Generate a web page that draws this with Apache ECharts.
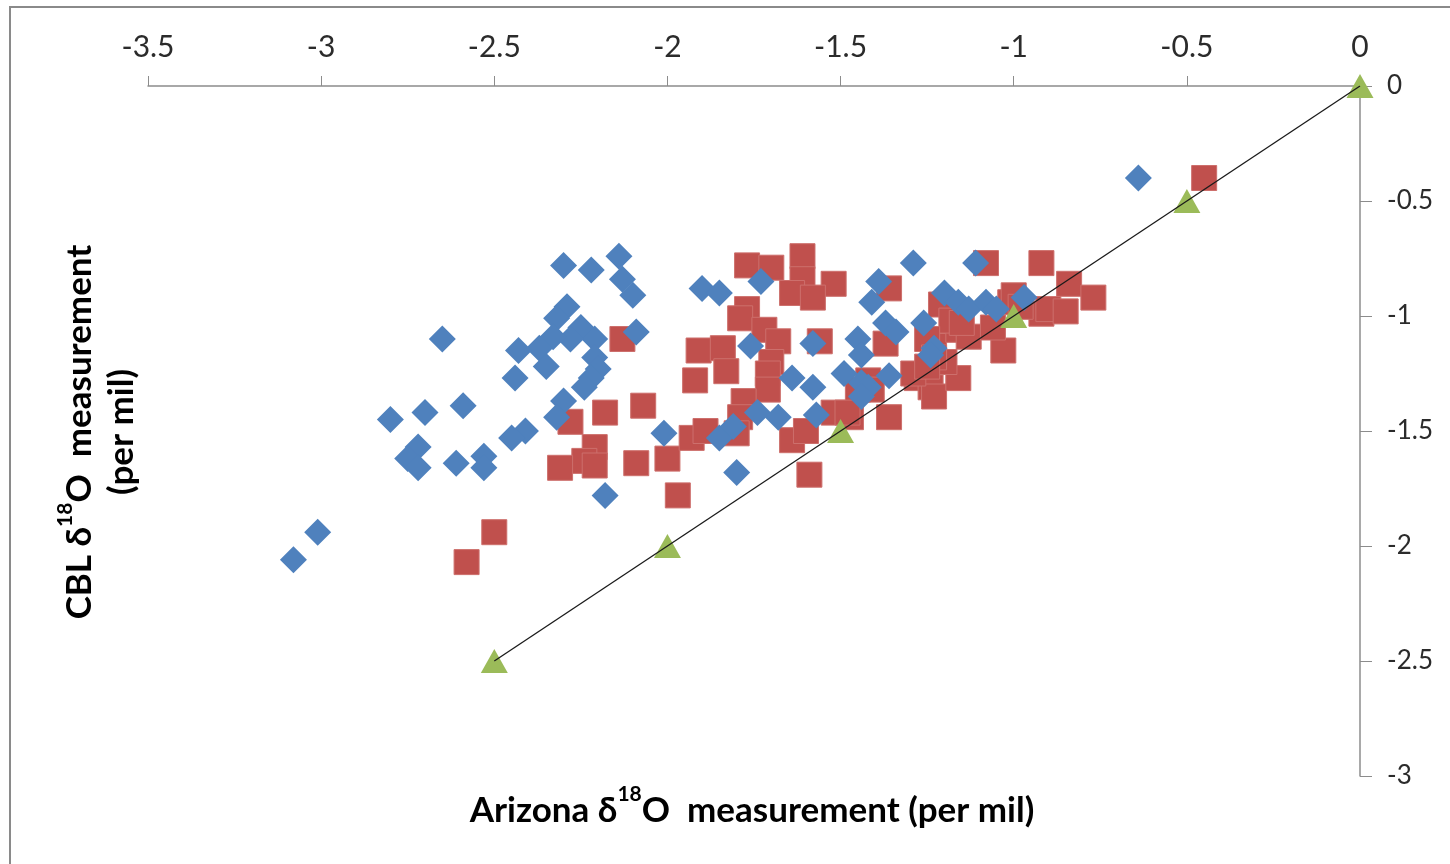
<!DOCTYPE html>
<html>
<head>
<meta charset="utf-8">
<script src="https://cdn.jsdelivr.net/npm/echarts@6/dist/echarts.min.js"></script>
<style>
  html, body { margin: 0; padding: 0; background: #fff; }
  #chart { width: 1450px; height: 864px; }
</style>
</head>
<body>
<div id="chart"></div>
<script>
// Arizona δ18O (x) vs CBL δ18O (y), per mil
const blueSeries = [
  [-2.30,-0.78],[-2.22,-0.80],[-2.14,-0.74],[-2.13,-0.84],[-2.10,-0.91],[-2.29,-0.96],[-2.32,-1.01],
  [-2.65,-1.10],[-2.09,-1.07],[-2.25,-1.05],[-2.21,-1.10],[-2.28,-1.10],[-2.33,-1.09],[-2.37,-1.14],
  [-2.43,-1.15],[-2.35,-1.22],[-2.21,-1.18],[-2.20,-1.23],[-2.22,-1.27],[-2.24,-1.31],[-2.44,-1.27],
  [-2.30,-1.37],[-2.32,-1.44],[-2.80,-1.45],[-2.70,-1.42],[-2.59,-1.39],[-2.41,-1.50],[-2.45,-1.53],
  [-2.72,-1.57],[-2.75,-1.62],[-2.72,-1.66],[-2.61,-1.64],[-2.53,-1.61],[-2.53,-1.66],[-2.01,-1.51],
  [-2.18,-1.78],[-3.01,-1.94],[-3.08,-2.06],
  [-1.90,-0.88],[-1.85,-0.90],[-1.73,-0.85],[-1.76,-1.13],[-1.58,-1.12],[-1.29,-0.77],[-1.11,-0.77],
  [-1.39,-0.85],[-1.41,-0.94],[-1.20,-0.90],[-1.16,-0.94],[-1.13,-0.97],[-1.08,-0.94],[-1.05,-0.97],
  [-0.97,-0.92],[-1.26,-1.03],[-1.37,-1.03],[-1.34,-1.07],[-1.45,-1.10],[-1.44,-1.17],[-1.23,-1.14],
  [-1.24,-1.17],[-1.64,-1.27],[-1.58,-1.31],[-1.49,-1.25],[-1.44,-1.29],[-1.42,-1.31],[-1.44,-1.35],
  [-1.36,-1.26],[-1.85,-1.53],[-1.81,-1.48],[-1.74,-1.42],[-1.68,-1.44],[-1.57,-1.43],[-1.80,-1.68],
  [-0.64,-0.40]
];

const redSeries = [
  [-2.13,-1.10],[-2.28,-1.46],[-2.18,-1.42],[-2.07,-1.39],[-2.21,-1.57],[-2.24,-1.63],[-2.21,-1.65],
  [-2.31,-1.66],[-2.09,-1.64],[-2.00,-1.62],[-1.97,-1.78],[-2.50,-1.94],[-2.58,-2.07],
  [-1.77,-0.78],[-1.70,-0.79],[-1.61,-0.74],[-1.61,-0.84],[-1.52,-0.86],[-1.64,-0.90],[-1.58,-0.92],
  [-1.77,-0.97],[-1.79,-1.01],[-1.72,-1.06],[-1.68,-1.11],[-1.91,-1.15],[-1.84,-1.14],[-1.83,-1.24],
  [-1.70,-1.20],[-1.71,-1.25],[-1.92,-1.28],[-1.71,-1.32],[-1.78,-1.37],[-1.79,-1.44],[-1.93,-1.53],
  [-1.89,-1.50],[-1.80,-1.51],[-1.64,-1.54],[-1.60,-1.50],[-1.52,-1.42],[-1.47,-1.44],[-1.59,-1.69],
  [-1.56,-1.11],[-1.36,-0.88],[-1.08,-0.77],[-0.92,-0.77],[-1.37,-1.12],[-1.36,-1.44],[-1.28,-1.27],
  [-1.24,-1.31],[-1.23,-1.35],[-1.16,-1.27],[-1.20,-1.20],[-1.23,-1.13],[-1.21,-0.95],[-1.16,-1.06],
  [-1.13,-1.09],[-1.03,-1.15],[-1.01,-0.94],[-0.92,-0.99],[-1.42,-1.28],[-1.45,-1.32],[-1.41,-1.32],
  [-1.48,-1.42],[-0.45,-0.40],[-0.84,-0.86],[-0.77,-0.92],[-1.00,-0.91],[-0.90,-0.97],[-0.85,-0.98],
  [-1.18,-1.02],[-1.06,-1.05],[-1.25,-1.10],[-1.23,-1.18],[-1.29,-1.25],[-1.15,-1.03],[-0.98,-0.96],
  [-1.25,-1.22]
];

// 1:1 reference points and the line joining them
const oneToOne = [[-2.5,-2.5],[-2,-2],[-1.5,-1.5],[-1,-1],[-0.5,-0.5],[0,0]];
const oneToOneLine = [[-2.5,-2.5],[0,0]];

const xRange = [-3.5, 0];
const yRange = [-3, 0];
const tickStep = 0.5;

const FONT = 'Lato, "Open Sans", sans-serif';
const NARROW = '"Liberation Sans Narrow", "Arial Narrow", Lato, sans-serif';

const chart = echarts.init(document.getElementById('chart'), null, { renderer: 'canvas' });

chart.setOption({
  backgroundColor: '#ffffff',
  animation: false,
  grid: { left: 148, top: 86, width: 1212, height: 690, containLabel: false },
  xAxis: {
    type: 'value',
    position: 'top',
    min: xRange[0], max: xRange[1], interval: tickStep,
    axisLine: { onZero: false, lineStyle: { color: '#8c8c8c', width: 1.5 } },
    axisTick: { show: true, inside: false, length: 10, lineStyle: { color: '#8c8c8c', width: 1 } },
    axisLabel: { color: '#2b2b2b', fontFamily: NARROW, fontSize: 30, margin: 24 },
    splitLine: { show: false }
  },
  yAxis: {
    type: 'value',
    position: 'right',
    min: yRange[0], max: yRange[1], interval: tickStep,
    axisLine: { onZero: false, lineStyle: { color: '#8c8c8c', width: 1.5 } },
    axisTick: { show: true, inside: false, length: 12, lineStyle: { color: '#8c8c8c', width: 1 } },
    axisLabel: { color: '#2b2b2b', fontFamily: FONT, fontSize: 26, margin: 27 },
    splitLine: { show: false }
  },
  series: [
    {
      type: 'scatter', data: redSeries, symbol: 'rect', symbolSize: 25, z: 2,
      itemStyle: { color: '#C0504D', borderColor: '#cd6f6c', borderWidth: 1, opacity: 1 }
    },
    {
      type: 'scatter', data: blueSeries, symbol: 'diamond', symbolSize: 27, z: 3,
      itemStyle: { color: '#4F81BD', opacity: 1 }
    },
    {
      type: 'scatter', data: oneToOne, symbol: 'triangle', symbolSize: [27, 24], z: 4,
      itemStyle: { color: '#9BBB59', opacity: 1 }
    },
    {
      type: 'line', data: oneToOneLine, symbol: 'none', z: 5,
      lineStyle: { color: '#1a1a1a', width: 1.3 }
    }
  ],
  graphic: [
    {
      type: 'rect', silent: true, z: -1,
      shape: { x: 10, y: 7, width: 1500, height: 900 },
      style: { fill: 'none', stroke: '#8a8a8a', lineWidth: 2 }
    },
    {
      type: 'text', x: 752, y: 806,
      style: {
        text: '{m|Arizona δ}{s|18}{m|O  measurement (per mil)}',
        align: 'center', verticalAlign: 'middle',
        rich: {
          m: { fontFamily: FONT, fontWeight: 'bold', fontSize: 35, fill: '#000', lineHeight: 44, verticalAlign: 'bottom' },
          s: { fontFamily: FONT, fontWeight: 'bold', fontSize: 21, fill: '#000', lineHeight: 44, verticalAlign: 'top' }
        }
      }
    },
    {
      type: 'text', x: 97, y: 432, rotation: Math.PI / 2,
      style: {
        text: '{m|CBL δ}{s|18}{m|O  measurement}\n{m|(per mil)}',
        align: 'center', verticalAlign: 'middle',
        rich: {
          m: { fontFamily: FONT, fontWeight: 'bold', fontSize: 35, fill: '#000', lineHeight: 42, align: 'center', verticalAlign: 'bottom' },
          s: { fontFamily: FONT, fontWeight: 'bold', fontSize: 21, fill: '#000', lineHeight: 42, verticalAlign: 'top' }
        }
      }
    }
  ]
});
</script>
</body>
</html>
